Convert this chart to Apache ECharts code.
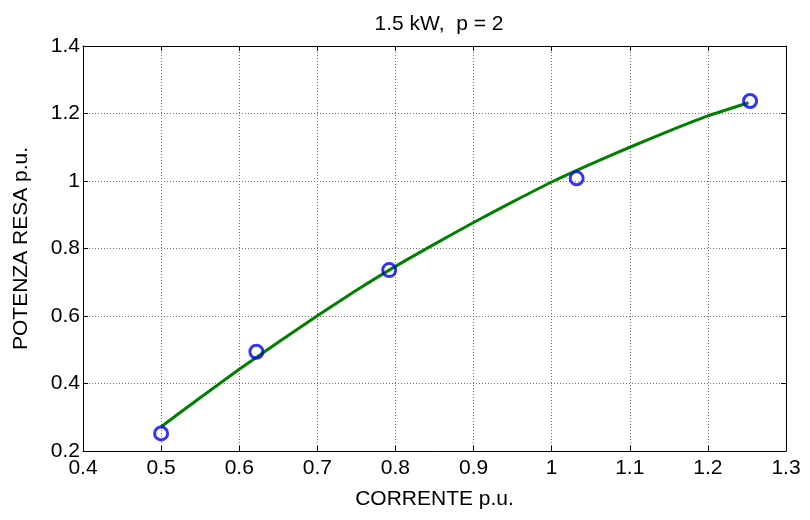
<!DOCTYPE html>
<html><head><meta charset="utf-8">
<script src="https://cdn.jsdelivr.net/npm/echarts@6/dist/echarts.min.js"></script>
<style>html,body{margin:0;padding:0;background:#fff}#c{width:810px;height:520px}</style>
</head><body><div id="c"></div>
<script>
const titleText = '1.5 kW,  p = 2';
const xName = 'CORRENTE p.u.';
const yName = 'POTENZA RESA p.u.';
const measX = [0.5, 0.622, 0.792, 1.032, 1.254];
const measY = [0.252, 0.494, 0.736, 1.008, 1.237];
const fitX = [0.5, 0.55, 0.6, 0.65, 0.7, 0.75, 0.8, 0.85, 0.9, 0.95, 1.0, 1.05, 1.1, 1.15, 1.2, 1.252];
const fitY = [0.272, 0.358, 0.442, 0.522, 0.601, 0.676, 0.747, 0.813, 0.877, 0.938, 0.997, 1.050, 1.100, 1.148, 1.193, 1.232];

const font = 'Liberation Sans, Arial, sans-serif';
const fs = 21;
const chart = echarts.init(document.getElementById('c'), null, {renderer:'canvas'});
const gridLine = {show:true, lineStyle:{color:'#707070', type:[1,2], width:1}};
const axLine = {show:true, onZero:false, lineStyle:{color:'#000', width:1}};
const tick = {show:true, inside:true, length:5, lineStyle:{color:'#000'}};
const fmt = v => (Math.round(v*10)/10).toString();
chart.setOption({
  animation:false,
  backgroundColor:'#fff',
  title:{text:titleText, left:434, textAlign:'center', top:9, textStyle:{fontFamily:font, fontSize:fs, fontWeight:'normal', color:'#000'}},
  grid:{left:83, right:24, top:46, bottom:69},
  xAxis:[
    {type:'value', min:0.4, max:1.3, interval:0.1, position:'bottom',
     name:xName, nameLocation:'middle', nameGap:38,
     nameTextStyle:{fontFamily:font, fontSize:fs, color:'#000'},
     axisLine:axLine, axisTick:tick, splitLine:gridLine,
     axisLabel:{fontFamily:font, fontSize:fs, color:'#000', margin:7, formatter:fmt}},
    {type:'value', min:0.4, max:1.3, interval:0.1, position:'top',
     axisLine:axLine, axisTick:tick, splitLine:{show:false}, axisLabel:{show:false}}
  ],
  yAxis:[
    {type:'value', min:0.2, max:1.4, interval:0.2, position:'left',
     name:yName, nameLocation:'middle', nameGap:51,
     nameTextStyle:{fontFamily:font, fontSize:fs, color:'#000'},
     axisLine:axLine, axisTick:tick, splitLine:gridLine,
     axisLabel:{fontFamily:font, fontSize:fs, color:'#000', margin:3, formatter:fmt}},
    {type:'value', min:0.2, max:1.4, interval:0.2, position:'right',
     axisLine:axLine, axisTick:tick, splitLine:{show:false}, axisLabel:{show:false}}
  ],
  series:[
    {type:'line', data:fitX.map((x,i)=>[x,fitY[i]]), smooth:0.2, showSymbol:false,
     lineStyle:{color:'#008000', width:3}, z:2},
    {type:'scatter', data:measX.map((x,i)=>[x,measY[i]]), symbol:'circle', symbolSize:13,
     itemStyle:{color:'rgba(0,0,0,0)', borderColor:'#0000ff', borderWidth:3}, z:3}
  ]
});
</script></body></html>
